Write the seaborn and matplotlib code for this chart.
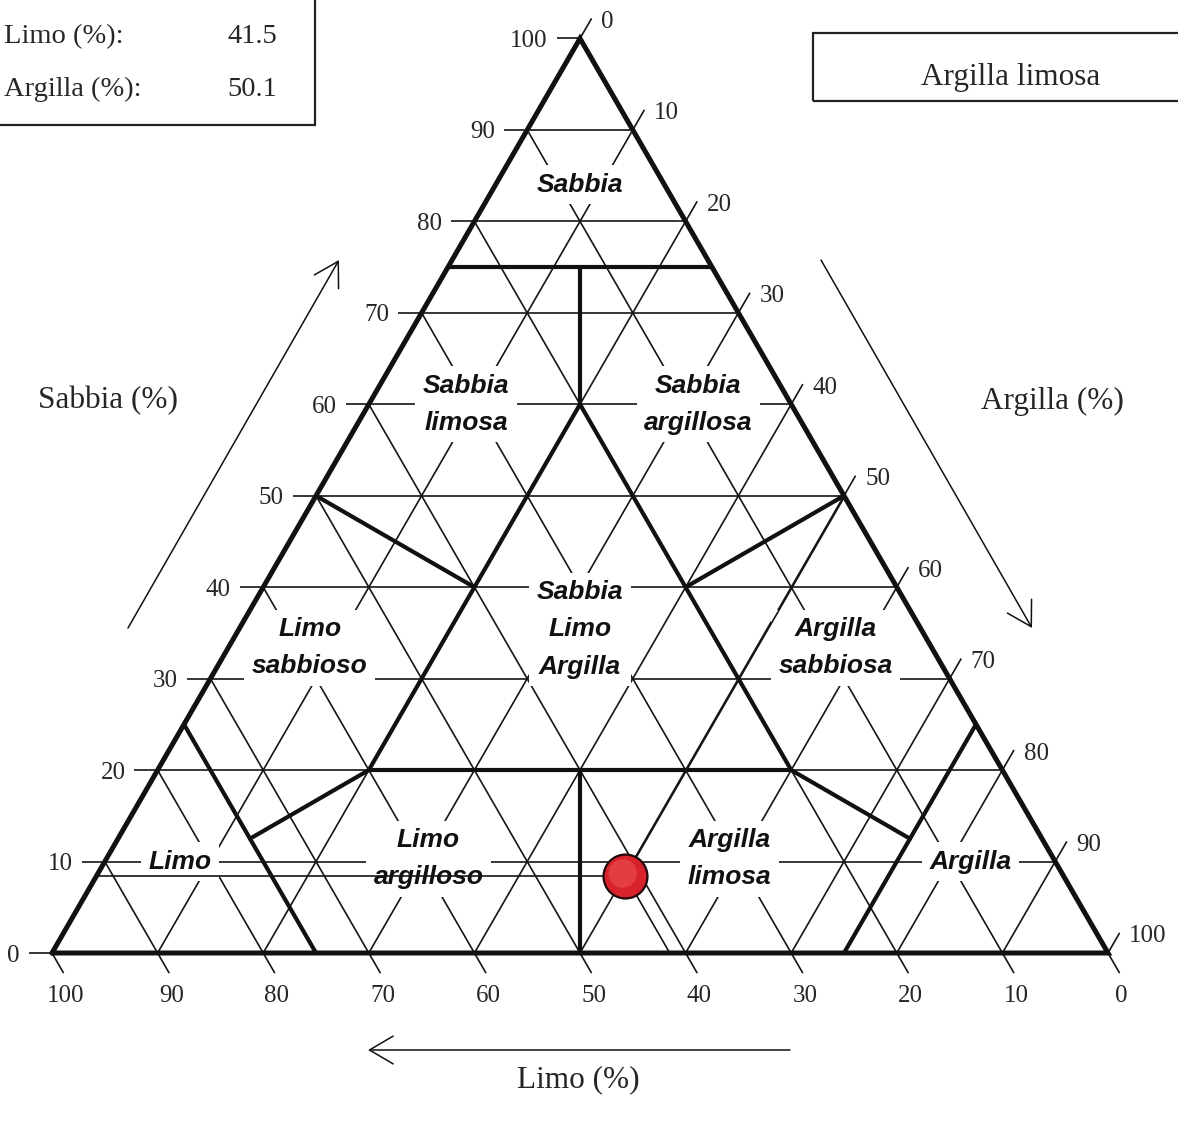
import numpy as np
import pandas as pd
import matplotlib
matplotlib.use("Agg")
import matplotlib.pyplot as plt
from matplotlib.patches import Rectangle
import seaborn as sns

# ---------------- data ----------------
sample_sand = 8.4
sample_silt = 41.5
sample_clay = 50.1
sample_class = "Argilla limosa"

tick_values = [0, 10, 20, 30, 40, 50, 60, 70, 80, 90, 100]
grid_values = [10, 20, 30, 40, 50, 60, 70, 80, 90]

# texture-class boundaries, given as (clay %, sand %) start/end points
boundary_start_clay = [0, 12.5, 20, 20, 20, 40, 0, 50, 0, 75, 12.5, 60]
boundary_start_sand = [75, 75, 60, 60, 20, 20, 50, 50, 25, 0, 12.5, 20]
boundary_end_clay = [25, 20, 20, 60, 60, 50, 20, 40, 25, 75, 20, 75]
boundary_end_sand = [75, 60, 20, 20, 20, 0, 40, 40, 0, 25, 20, 12.5]

region_names = ["Sabbia", "Sabbia\nlimosa", "Sabbia\nargillosa",
                "Sabbia\nLimo\nArgilla", "Limo\nsabbioso", "Argilla\nsabbiosa",
                "Limo", "Limo\nargilloso", "Argilla\nlimosa", "Argilla"]
region_clay = [8.0, 9.2, 31.2, 32.3, 7.7, 57.5, 7.1, 30.5, 59.0, 82.0]
region_sand = [84.0, 60.0, 60.0, 35.4, 33.4, 33.4, 10.0, 10.3, 10.3, 10.0]

# ---------------- helpers ----------------
S3 = np.sqrt(3) / 2


def tern(clay, sand):
    """ternary (clay, sand) -> cartesian"""
    return clay + sand / 2.0, sand * S3


PX = 10.56          # pixels per unit
X0, Y0 = 52, 953    # pixel position of the 100% silt vertex


def px(xp, yp):
    """pixel position -> data coords (for decorations only)"""
    return (xp - X0) / PX, (Y0 - yp) / PX


sns.set_theme(style="white")
plt.rcParams["font.family"] = ["Liberation Serif", "DejaVu Serif"]

W, H = 1178, 1124
fig = plt.figure(figsize=(W / 100, H / 100), dpi=100)
ax = fig.add_axes([0, 0, 1, 1])
ax.set_xlim(px(0, 0)[0], px(W, 0)[0])
ax.set_ylim(px(0, H)[1], px(0, 0)[1])
ax.axis("off")

thin = dict(color="#151515", lw=1.2, solid_capstyle="butt", zorder=1)

# ---------------- grid lines ----------------
for v in grid_values:
    a, b = tern(0, v), tern(100 - v, v)                 # sand = v
    ax.plot([a[0], b[0]], [a[1], b[1]], **thin)
    a, b = tern(0, 100 - v), tern(100 - v, 0)           # silt = v
    ax.plot([a[0], b[0]], [a[1], b[1]], **thin)
    a, b = tern(v, 0), tern(v, 100 - v)                 # clay = v
    ax.plot([a[0], b[0]], [a[1], b[1]], **thin)

# ---------------- ticks and tick labels ----------------
L = 2.2
tick_fs = 18
for v in tick_values:
    # sand (left edge)
    ex, ey = tern(0, v)
    ax.plot([ex, ex - L], [ey, ey], **thin)
    ax.text(ex - L - 0.85, ey, f"{v}", ha="right", va="center_baseline",
            fontsize=tick_fs)
    # clay (right edge)
    ex, ey = tern(v, 100 - v)
    tx, ty = ex + L * 0.5, ey + L * S3
    ax.plot([ex, tx], [ey, ty], **thin)
    ax.text(tx + 0.9, ty - 0.1, f"{v}", ha="left", va="center_baseline",
            fontsize=tick_fs)
    # silt (bottom edge)
    ex, ey = tern(100 - v, 0)
    tx, ty = ex + L * 0.5, ey - L * S3
    ax.plot([ex, tx], [ey, ty], **thin)
    ax.text(tx + 0.2, ty - 1.9, f"{v}", ha="center", va="center_baseline",
            fontsize=tick_fs)

# ---------------- region labels ----------------
for name, c, s in zip(region_names, region_clay, region_sand):
    x, y = tern(c, s)
    ax.text(x, y, name, ha="center", va="center", fontsize=19,
            family=["Liberation Sans", "DejaVu Sans"], weight="bold",
            style="italic", linespacing=1.7, color="#111111", zorder=3,
            bbox=dict(boxstyle="square,pad=0.28", fc="white", ec="none"))

# ---------------- class boundaries ----------------
rows = []
for i, (c0, s0, c1, s1) in enumerate(zip(boundary_start_clay, boundary_start_sand,
                                         boundary_end_clay, boundary_end_sand)):
    for k, (c, s) in enumerate([(c0, s0), (c1, s1)]):
        x, y = tern(c, s)
        rows.append(dict(seg=i, order=k, x=x, y=y))
bdf = pd.DataFrame(rows)
sns.lineplot(data=bdf, x="x", y="y", units="seg", estimator=None, sort=False,
             color="#111111", lw=3.0, ax=ax, zorder=4, legend=False)

# ---------------- sample guide lines ----------------
pxs, pys = tern(sample_clay, sample_sand)
g = dict(color="#151515", lw=1.2, zorder=5)
a = tern(0, sample_sand)
ax.plot([a[0], pxs], [a[1], pys], **g)
b = tern(100 - sample_silt, 0)
ax.plot([pxs, b[0]], [pys, b[1]], **g)
c = tern(sample_clay, 100 - sample_clay)
ax.plot([pxs, c[0]], [pys, c[1]], **g)

# ---------------- outer triangle ----------------
tri = [tern(0, 0), tern(100, 0), tern(0, 100), tern(0, 0)]
ax.plot([p[0] for p in tri], [p[1] for p in tri], color="#111111", lw=3.6,
        solid_joinstyle="miter", zorder=6)

# ---------------- sample point ----------------
sns.scatterplot(x=[pxs], y=[pys], s=1000, color="#d8232c", edgecolor="#220808",
                linewidth=1.6, ax=ax, zorder=10, legend=False)
sns.scatterplot(x=[pxs - 0.25], y=[pys + 0.25], s=420, color="#e8474c",
                edgecolor="none", alpha=0.7, ax=ax, zorder=11, legend=False)

# ---------------- axis titles and arrows ----------------
title_fs = 22.5
ax.text(*px(108, 401), "Sabbia (%)", ha="center", va="center", fontsize=title_fs)
ax.text(*px(1052, 401), "Argilla (%)", ha="center", va="center", fontsize=title_fs)
ax.text(*px(578, 1080), "Limo (%)", ha="center", va="center", fontsize=title_fs)

arrow = dict(arrowstyle="->,head_length=0.85,head_width=0.5", mutation_scale=20,
             lw=1.1, color="#111111", shrinkA=0, shrinkB=0)
ax.annotate("", xy=px(339, 260), xytext=px(128, 628), arrowprops=arrow)
ax.annotate("", xy=px(1032, 628), xytext=px(821, 260), arrowprops=arrow)
ax.annotate("", xy=px(368, 1050), xytext=px(790, 1050), arrowprops=arrow)

# ---------------- result boxes ----------------
bl = px(-60, 125)
tr = px(315, -60)
ax.add_patch(Rectangle(bl, tr[0] - bl[0], tr[1] - bl[1], fill=False,
                       ec="#222222", lw=1.6, zorder=7))
box_fs = 20.5
ax.text(*px(4, 43), "Limo (%):", ha="left", va="baseline", fontsize=box_fs)
ax.text(*px(227, 43), f"{sample_silt:.1f}", ha="left", va="baseline", fontsize=box_fs)
ax.text(*px(4, 96), "Argilla (%):", ha="left", va="baseline", fontsize=box_fs)
ax.text(*px(227, 96), f"{sample_clay:.1f}", ha="left", va="baseline", fontsize=box_fs)

bl = px(813, 101)
tr = px(1240, 33)
ax.add_patch(Rectangle(bl, tr[0] - bl[0], tr[1] - bl[1], fill=False,
                       ec="#222222", lw=1.6, zorder=7))
ax.text(*px(1011, 85), sample_class, ha="center", va="baseline", fontsize=22.5)

fig.savefig("out.png", dpi=100, facecolor="white")
